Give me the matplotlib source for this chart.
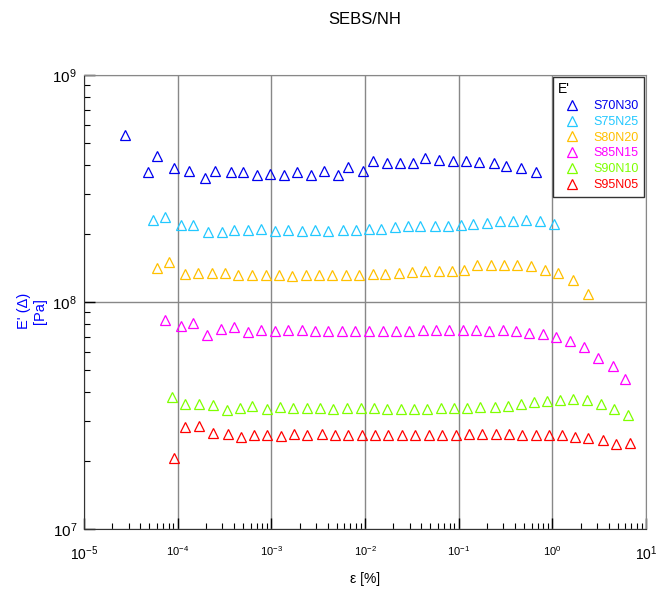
import matplotlib
matplotlib.use('Agg')
import matplotlib.pyplot as plt

plt.rcParams['font.family'] = ['Liberation Sans', 'DejaVu Sans']

# strain [%] and E' [Pa] per blend
s70_x = [2.74e-5, 4.79e-5, 6.05e-5, 9.20e-5, 1.31e-4, 1.94e-4, 2.50e-4, 3.68e-4, 4.94e-4, 7.08e-4,
         9.73e-4, 1.36e-3, 1.87e-3, 2.67e-3, 3.61e-3, 5.10e-3, 6.56e-3, 9.62e-3, 1.21e-2, 1.73e-2,
         2.38e-2, 3.22e-2, 4.38e-2, 6.19e-2, 8.61e-2, 0.119, 0.164, 0.236, 0.324, 0.464, 0.662]
s70_y = [5.44e8, 3.75e8, 4.41e8, 3.91e8, 3.79e8, 3.53e8, 3.79e8, 3.73e8, 3.73e8, 3.63e8,
         3.66e8, 3.63e8, 3.73e8, 3.63e8, 3.77e8, 3.63e8, 3.94e8, 3.77e8, 4.16e8, 4.11e8,
         4.11e8, 4.11e8, 4.30e8, 4.22e8, 4.19e8, 4.19e8, 4.15e8, 4.08e8, 3.99e8, 3.91e8, 3.75e8]

s75_x = [5.41e-5, 7.32e-5, 1.08e-4, 1.47e-4, 2.09e-4, 2.97e-4, 3.99e-4, 5.67e-4, 7.69e-4, 1.10e-3,
         1.51e-3, 2.10e-3, 2.92e-3, 4.04e-3, 5.77e-3, 7.94e-3, 1.11e-2, 1.49e-2, 2.08e-2, 2.85e-2,
         3.88e-2, 5.57e-2, 7.67e-2, 0.105, 0.144, 0.199, 0.273, 0.382, 0.521, 0.736, 1.03]
s75_y = [2.30e8, 2.38e8, 2.18e8, 2.18e8, 2.04e8, 2.03e8, 2.07e8, 2.07e8, 2.10e8, 2.06e8,
         2.07e8, 2.06e8, 2.07e8, 2.06e8, 2.07e8, 2.07e8, 2.10e8, 2.10e8, 2.15e8, 2.17e8,
         2.17e8, 2.17e8, 2.17e8, 2.18e8, 2.21e8, 2.22e8, 2.27e8, 2.27e8, 2.30e8, 2.27e8, 2.21e8]

s80_x = [5.97e-5, 8.02e-5, 1.20e-4, 1.65e-4, 2.31e-4, 3.17e-4, 4.40e-4, 6.25e-4, 8.69e-4, 1.21e-3,
         1.66e-3, 2.32e-3, 3.20e-3, 4.47e-3, 6.21e-3, 8.55e-3, 1.21e-2, 1.64e-2, 2.28e-2, 3.14e-2,
         4.38e-2, 6.10e-2, 8.45e-2, 0.115, 0.157, 0.219, 0.303, 0.421, 0.585, 0.832, 1.15, 1.67, 2.43]
s80_y = [1.41e8, 1.50e8, 1.33e8, 1.34e8, 1.34e8, 1.34e8, 1.32e8, 1.32e8, 1.32e8, 1.32e8,
         1.30e8, 1.32e8, 1.32e8, 1.32e8, 1.32e8, 1.32e8, 1.33e8, 1.33e8, 1.34e8, 1.35e8,
         1.37e8, 1.37e8, 1.37e8, 1.38e8, 1.45e8, 1.46e8, 1.46e8, 1.46e8, 1.44e8, 1.39e8, 1.34e8, 1.25e8, 1.08e8]

s85_x = [7.32e-5, 1.08e-4, 1.47e-4, 2.07e-4, 2.92e-4, 3.99e-4, 5.58e-4, 7.69e-4, 1.10e-3, 1.51e-3,
         2.10e-3, 2.92e-3, 4.04e-3, 5.67e-3, 7.80e-3, 1.11e-2, 1.54e-2, 2.14e-2, 2.97e-2, 4.12e-2,
         5.72e-2, 7.85e-2, 0.110, 0.153, 0.212, 0.294, 0.405, 0.561, 0.793, 1.10, 1.53, 2.17, 3.08, 4.39, 6.04]
s85_y = [8.33e7, 7.84e7, 8.06e7, 7.15e7, 7.60e7, 7.78e7, 7.38e7, 7.55e7, 7.45e7, 7.55e7,
         7.55e7, 7.45e7, 7.45e7, 7.45e7, 7.45e7, 7.45e7, 7.45e7, 7.45e7, 7.45e7, 7.55e7,
         7.55e7, 7.55e7, 7.55e7, 7.55e7, 7.45e7, 7.55e7, 7.45e7, 7.30e7, 7.23e7, 7.01e7, 6.71e7, 6.32e7, 5.65e7, 5.22e7, 4.58e7]

s90_x = [8.63e-5, 1.20e-4, 1.70e-4, 2.40e-4, 3.33e-4, 4.62e-4, 6.25e-4, 8.91e-4, 1.24e-3, 1.71e-3,
         2.38e-3, 3.30e-3, 4.58e-3, 6.36e-3, 8.97e-3, 1.24e-2, 1.73e-2, 2.40e-2, 3.33e-2, 4.61e-2,
         6.41e-2, 8.89e-2, 0.122, 0.170, 0.242, 0.335, 0.458, 0.635, 0.879, 1.21, 1.68, 2.34, 3.29, 4.57, 6.35]
s90_y = [3.83e7, 3.54e7, 3.54e7, 3.51e7, 3.33e7, 3.41e7, 3.48e7, 3.37e7, 3.44e7, 3.41e7,
         3.41e7, 3.41e7, 3.37e7, 3.41e7, 3.41e7, 3.41e7, 3.37e7, 3.37e7, 3.37e7, 3.37e7,
         3.41e7, 3.41e7, 3.41e7, 3.44e7, 3.44e7, 3.48e7, 3.54e7, 3.63e7, 3.66e7, 3.71e7, 3.74e7, 3.70e7, 3.56e7, 3.38e7, 3.17e7]

s95_x = [9.20e-5, 1.20e-4, 1.70e-4, 2.40e-4, 3.42e-4, 4.74e-4, 6.51e-4, 9.04e-4, 1.26e-3, 1.74e-3,
         2.42e-3, 3.44e-3, 4.78e-3, 6.62e-3, 9.20e-3, 1.28e-2, 1.77e-2, 2.46e-2, 3.41e-2, 4.81e-2,
         6.67e-2, 9.27e-2, 0.129, 0.178, 0.248, 0.344, 0.477, 0.662, 0.918, 1.26, 1.75, 2.43, 3.46, 4.80, 6.67]
s95_y = [2.06e7, 2.82e7, 2.84e7, 2.66e7, 2.61e7, 2.54e7, 2.59e7, 2.59e7, 2.56e7, 2.61e7,
         2.59e7, 2.61e7, 2.59e7, 2.59e7, 2.59e7, 2.59e7, 2.59e7, 2.59e7, 2.59e7, 2.59e7,
         2.59e7, 2.59e7, 2.61e7, 2.61e7, 2.61e7, 2.61e7, 2.59e7, 2.59e7, 2.59e7, 2.59e7, 2.55e7, 2.52e7, 2.47e7, 2.38e7, 2.40e7]

names = ['S70N30', 'S75N25', 'S80N20', 'S85N15', 'S90N10', 'S95N05']
colors = ['#0000ee', '#22c8ff', '#ffc000', '#ff00ff', '#7fff00', '#ff0000']
xs = [s70_x, s75_x, s80_x, s85_x, s90_x, s95_x]
ys = [s70_y, s75_y, s80_y, s85_y, s90_y, s95_y]

fig = plt.figure(figsize=(6.56, 5.92), dpi=100)
ax = fig.add_axes([84 / 656, 63 / 592, 562 / 656, 454 / 592])

for x, y, c, n in zip(xs, ys, colors, names):
    ax.plot(x, y, linestyle='none', marker='^', markersize=7.5, markerfacecolor='none',
            markeredgecolor=c, markeredgewidth=0.9, label=n)

ax.set_xscale('log')
ax.set_yscale('log')
ax.set_xlim(1e-5, 10)
ax.set_ylim(1e7, 1e9)

xt = [1e-5, 1e-4, 1e-3, 1e-2, 1e-1, 1e0, 1e1]
xl = [r'$\mathdefault{10^{-5}}$', r'$\mathdefault{10^{-4}}$', r'$\mathdefault{10^{-3}}$',
      r'$\mathdefault{10^{-2}}$', r'$\mathdefault{10^{-1}}$', r'$\mathdefault{10^{0}}$',
      r'$\mathdefault{10^{1}}$']
ax.set_xticks(xt)
ax.set_xticklabels(xl)
for i, lab in enumerate(ax.get_xticklabels()):
    lab.set_fontsize(10 if i in (0, len(xt) - 1) else 8)
ax.set_yticks([1e7, 1e8, 1e9])
ax.set_yticklabels([r'$\mathdefault{10^{7}}$', r'$\mathdefault{10^{8}}$', r'$\mathdefault{10^{9}}$'],
                   fontsize=11)

ax.tick_params(axis='x', which='major', pad=11)
ax.tick_params(axis='y', which='major', pad=5)
ax.tick_params(which='major', direction='in', length=8, width=1, top=False, right=False)
ax.tick_params(which='minor', direction='in', length=4, width=0.8, top=False, right=False)
ax.grid(True, which='major', color='#888888', linewidth=1)

for side in ['top', 'right']:
    ax.spines[side].set_color('#888888')
for side in ['left', 'bottom']:
    ax.spines[side].set_color('#333333')

ax.set_xlabel('ε [%]', fontsize=10)
ax.xaxis.set_label_coords(0.5, -0.095)
ax.set_ylabel("E' (Δ)\n[Pa]", fontsize=10.5, color='#0000ff')
ax.yaxis.set_label_coords(-0.066, 0.48)

fig.text(365 / 656, 1 - 20 / 592, 'SEBS/NH', ha='center', va='center', fontsize=12)

leg = ax.legend(title="E'", loc='upper right', bbox_to_anchor=(0.997, 0.996), fontsize=9,
                frameon=True, fancybox=False, edgecolor='black', borderpad=0.45,
                borderaxespad=0, handletextpad=0.6, handlelength=2.2, labelspacing=0.3)
leg.get_frame().set_linewidth(1)
leg._legend_box.align = 'left'
for t, c in zip(leg.get_texts(), colors):
    t.set_color(c)

fig.savefig('out.png', dpi=100)
